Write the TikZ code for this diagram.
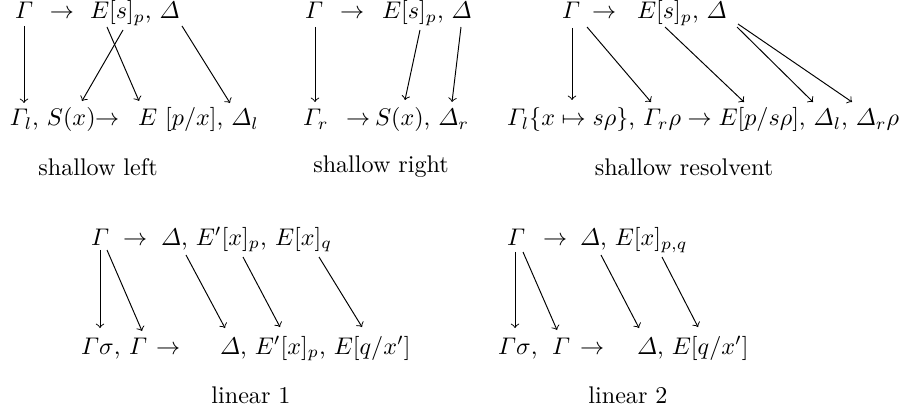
\documentclass[tikz,border=0pt]{standalone}
\usepackage{amsmath}
\begin{document}
\begin{tikzpicture}[x=0.415pt,y=-0.415pt,
  txt/.style={anchor=base west, inner sep=0pt, outer sep=0pt},
  lbl/.style={anchor=base, inner sep=0pt, outer sep=0pt},
  arr/.style={->, line width=0.4pt}]
\useasboundingbox (0,0) rectangle (904,413);
% ---------- shallow left
\node[txt] (aG)  at (15,19)  {$\varGamma$};
\node[txt] (aTo) at (50,19)  {$\rightarrow$};
\node[txt] (aR)  at (90,19)  {$E[s]_p$, $\varDelta$};
\node[txt] (aB1) at (10,126) {$\varGamma_l$, $S(x)$};
\node[txt] (aB2) at (95,126) {$\rightarrow$};
\node[txt] (aB3) at (138,126) {$E\ [p/x]$, $\varDelta_l$};
\node[lbl] (la) at (98,176) {shallow left};
\coordinate (a1s) at (24,26);  \coordinate (a1e) at (24,103);
\coordinate (a2s) at (123,30); \coordinate (a2e) at (82,101);
\coordinate (a3s) at (107,27); \coordinate (a3e) at (139,101);
\coordinate (a4s) at (182,26); \coordinate (a4e) at (230,103);
\draw[arr] (a1s) -- (a1e);
\draw[arr] (a2s) -- (a2e);
\draw[arr] (a3s) -- (a3e);
\draw[arr] (a4s) -- (a4e);
% ---------- shallow right
\node[txt] (bG)  at (305,19) {$\varGamma$};
\node[txt] (bTo) at (340,19) {$\rightarrow$};
\node[txt] (bR)  at (382,19) {$E[s]_p$, $\varDelta$};
\node[txt] (bB1) at (303,126) {$\varGamma_r$};
\node[txt] (bB2) at (346,126) {$\rightarrow$};
\node[txt] (bB3) at (375,126) {$S(x)$, $\varDelta_r$};
\node[lbl] (lb) at (381,173) {shallow right};
\coordinate (b1s) at (315,27); \coordinate (b1e) at (315,102);
\coordinate (b2s) at (420,30); \coordinate (b2e) at (405,100);
\coordinate (b3s) at (461,27); \coordinate (b3e) at (452,102);
\draw[arr] (b1s) -- (b1e);
\draw[arr] (b2s) -- (b2e);
\draw[arr] (b3s) -- (b3e);
% ---------- shallow resolvent
\node[txt] (cG)  at (562,19) {$\varGamma$};
\node[txt] (cTo) at (592,19) {$\rightarrow$};
\node[txt] (cR)  at (637,19) {$E[s]_p$, $\varDelta$};
\node[txt] (cB)  at (507,126) {$\varGamma_l\{x\mapsto s\rho\}$, $\varGamma_r\rho \rightarrow E[p/s\rho]$, $\varDelta_l$, $\varDelta_r\rho$};
\node[lbl] (lc) at (684,176) {shallow resolvent};
\coordinate (c1s) at (572,28); \coordinate (c1e) at (572,100);
\coordinate (c2s) at (587,27); \coordinate (c2e) at (651,102);
\coordinate (c3s) at (665,27); \coordinate (c3e) at (744,102);
\coordinate (c4s) at (737,27); \coordinate (c4e) at (813,102);
\coordinate (c5s) at (738,24); \coordinate (c5e) at (852,102);
\draw[arr] (c1s) -- (c1e);
\draw[arr] (c2s) -- (c2e);
\draw[arr] (c3s) -- (c3e);
\draw[arr] (c4s) -- (c4e);
\draw[arr] (c5s) -- (c5e);
% ---------- linear 1
\node[txt] (dG)  at (91,245)  {$\varGamma$};
\node[txt] (dTo) at (123,245) {$\rightarrow$};
\node[txt] (dR1) at (161,245) {$\varDelta$, $E'[x]_p$,};
\node[txt] (dR2) at (275,245) {$E[x]_q$};
\node[txt] (dB1) at (81,354)  {$\varGamma\sigma$,};
\node[txt] (dB2) at (129,354) {$\varGamma$};
\node[txt] (dB3) at (156,354) {$\rightarrow$};
\node[txt] (dB4) at (220,354) {$\varDelta$, $E'[x]_p$, $E[q/x']$};
\node[lbl] (ld) at (251,403) {linear 1};
\coordinate (d1s) at (100,250); \coordinate (d1e) at (100,328);
\coordinate (d2s) at (107,250); \coordinate (d2e) at (142,331);
\coordinate (d3s) at (186,255); \coordinate (d3e) at (225,328);
\coordinate (d4s) at (243,257); \coordinate (d4e) at (280,327);
\coordinate (d5s) at (319,257); \coordinate (d5e) at (362,327);
\draw[arr] (d1s) -- (d1e);
\draw[arr] (d2s) -- (d2e);
\draw[arr] (d3s) -- (d3e);
\draw[arr] (d4s) -- (d4e);
\draw[arr] (d5s) -- (d5e);
% ---------- linear 2
\node[txt] (eG)  at (507,246) {$\varGamma$};
\node[txt] (eTo) at (543,246) {$\rightarrow$};
\node[txt] (eR)  at (580,246) {$\varDelta$, $E[x]_{p,q}$};
\node[txt] (eB1) at (498,354) {$\varGamma\sigma$,};
\node[txt] (eB2) at (552,354) {$\varGamma$};
\node[txt] (eB3) at (580,354) {$\rightarrow$};
\node[txt] (eB4) at (637,354) {$\varDelta$, $E[q/x']$};
\node[lbl] (le) at (628,403) {linear 2};
\coordinate (e1s) at (515,252); \coordinate (e1e) at (515,328);
\coordinate (e2s) at (523,252); \coordinate (e2e) at (557,330);
\coordinate (e3s) at (601,255); \coordinate (e3e) at (639,328);
\coordinate (e4s) at (662,257); \coordinate (e4e) at (698,327);
\draw[arr] (e1s) -- (e1e);
\draw[arr] (e2s) -- (e2e);
\draw[arr] (e3s) -- (e3e);
\draw[arr] (e4s) -- (e4e);
\end{tikzpicture}
\end{document}
